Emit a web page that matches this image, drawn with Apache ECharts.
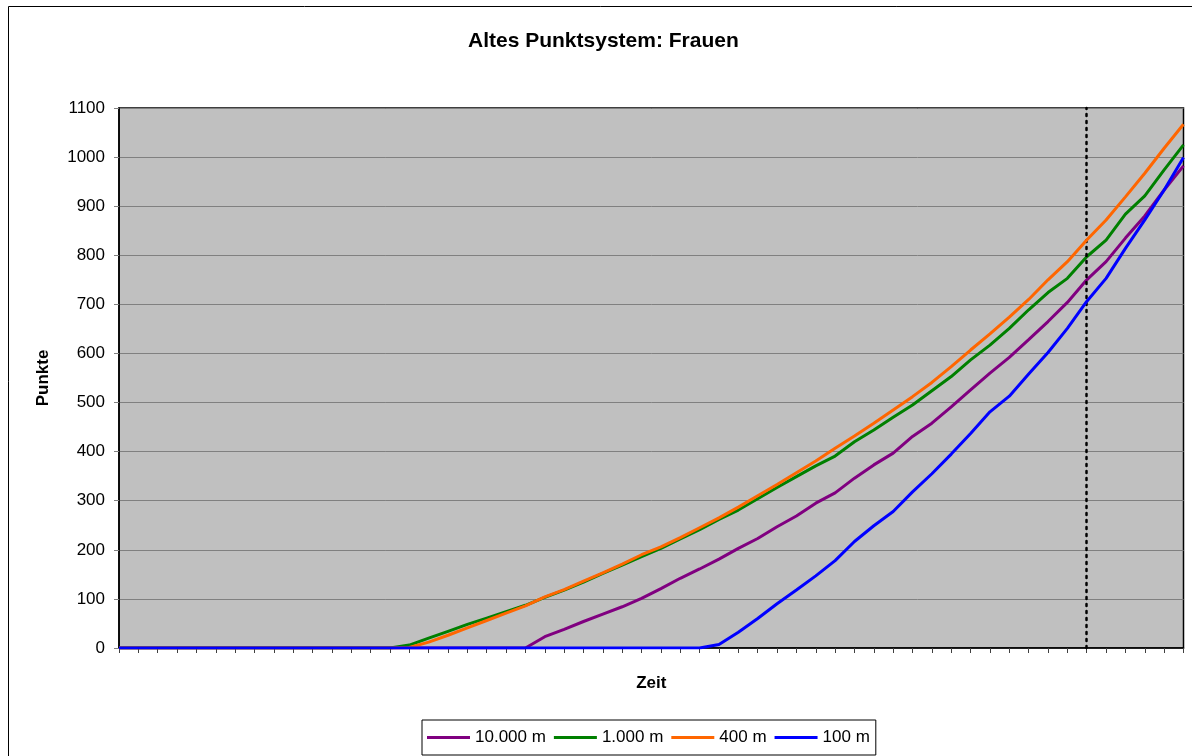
<!DOCTYPE html>
<html>
<head>
<meta charset="utf-8">
<script src="https://cdn.jsdelivr.net/npm/echarts@6/dist/echarts.min.js"></script>
<style>
html,body{margin:0;padding:0;background:#fff;}
#chart{width:1192px;height:756px;}
</style>
</head>
<body>
<div id="chart"></div>
<script>
var categories = ["1","2","3","4","5","6","7","8","9","10","11","12","13","14","15","16","17","18","19","20",
  "21","22","23","24","25","26","27","28","29","30","31","32","33","34","35","36","37","38","39","40",
  "41","42","43","44","45","46","47","48","49","50","51","52","53","54","55","56"];

var seriesNames = ["10.000 m", "1.000 m", "400 m", "100 m"];

var values10000 = [0,0,0,0,0,0,0,0,0,0,0,0,0,0,0,0,0,0,0,0,0,0,
  23,38,54,69,84,101,121,142,161,181,203,223,247,269,295,316,346,373,397,431,458,491,526,560,592,628,665,704,750,787,835,880,933,982];

var values1000 = [0,0,0,0,0,0,0,0,0,0,0,0,0,0,0,
  6,20,34,48,61,74,87,103,118,134,152,169,186,203,222,241,262,281,304,327,349,371,391,420,444,470,495,524,553,587,617,651,689,724,753,797,831,884,921,974,1025];

var values400 = [0,0,0,0,0,0,0,0,0,0,0,0,0,0,0,
  1,12,26,41,56,71,86,104,119,136,153,171,190,206,225,245,265,287,310,333,357,381,407,432,458,485,512,541,573,607,640,674,710,750,787,831,872,919,967,1018,1067];

var values100 = [0,0,0,0,0,0,0,0,0,0,0,0,0,0,0,0,0,0,0,0,0,0,0,0,0,0,0,0,0,0,0,
  7,32,60,90,118,147,178,217,249,278,318,355,395,437,481,513,558,602,651,706,753,814,872,933,999];

var markerCategory = "51";
var colors = ["#800080", "#008000", "#FF6600", "#0000FF"];
var allValues = [values10000, values1000, values400, values100];

var FONT = "'Liberation Sans', Arial, sans-serif";

var series = seriesNames.map(function (name, i) {
  var s = {
    name: name,
    type: 'line',
    data: allValues[i],
    symbol: 'none',
    showSymbol: false,
    smooth: false,
    lineStyle: { width: 3, color: colors[i] },
    itemStyle: { color: colors[i] },
    z: 3 + i
  };
  if (i === 0) {
    s.markLine = {
      silent: true,
      symbol: 'none',
      label: { show: false },
      lineStyle: { color: '#000', type: [2, 5], width: 2.5, cap: 'round' },
      data: [{ xAxis: markerCategory }]
    };
  }
  return s;
});

var chart = echarts.init(document.getElementById('chart'), null, { renderer: 'canvas' });
chart.setOption({
  animation: false,
  backgroundColor: '#fff',
  textStyle: { fontFamily: FONT },
  graphic: [{
    type: 'rect',
    z: -10,
    silent: true,
    shape: { x: 8.5, y: 6.5, width: 1200, height: 800 },
    style: { fill: 'none', stroke: '#000', lineWidth: 1 }
  }],
  title: {
    text: 'Altes Punktsystem: Frauen',
    left: 468,
    top: 31,
    padding: 0,
    textStyle: { fontFamily: FONT, fontSize: 21, fontWeight: 'bold', color: '#000' }
  },
  legend: {
    data: seriesNames,
    left: 422,
    top: 720,
    orient: 'horizontal',
    icon: 'rect',
    itemWidth: 43,
    itemHeight: 3,
    itemGap: 8,
    padding: [9, 6, 9, 5],
    backgroundColor: '#fff',
    borderColor: '#000',
    borderWidth: 1,
    borderRadius: 0,
    textStyle: { fontFamily: FONT, fontSize: 17, color: '#000' }
  },
  grid: {
    left: 119,
    top: 108,
    right: 8.5,
    bottom: 108,
    containLabel: false,
    outerBoundsMode: 'none',
    show: true,
    backgroundColor: '#C0C0C0',
    borderColor: '#000',
    borderWidth: 1.5
  },
  xAxis: {
    type: 'category',
    data: categories,
    boundaryGap: false,
    name: 'Zeit',
    nameLocation: 'middle',
    nameGap: 27,
    nameTextStyle: { fontFamily: FONT, fontSize: 17, fontWeight: 'bold', color: '#000' },
    axisLine: { show: true, lineStyle: { color: '#000', width: 1.5 } },
    axisTick: { show: true, interval: 0, length: 5, inside: false, lineStyle: { color: '#404040', width: 1 } },
    axisLabel: { show: false },
    splitLine: { show: false }
  },
  yAxis: {
    type: 'value',
    min: 0,
    max: 1100,
    interval: 100,
    name: 'Punkte',
    nameLocation: 'middle',
    nameGap: 67,
    nameRotate: 90,
    nameTextStyle: { fontFamily: FONT, fontSize: 17, fontWeight: 'bold', color: '#000' },
    axisLine: { show: true, lineStyle: { color: '#000', width: 1.5 } },
    axisTick: { show: true, length: 5, inside: false, lineStyle: { color: '#808080', width: 1 } },
    axisLabel: {
      show: true, margin: 14, fontFamily: FONT, fontSize: 17, color: '#000',
      formatter: function (v) { return String(v); }
    },
    splitLine: { show: true, lineStyle: { color: '#808080', width: 1 } }
  },
  series: series
});
</script>
</body>
</html>
